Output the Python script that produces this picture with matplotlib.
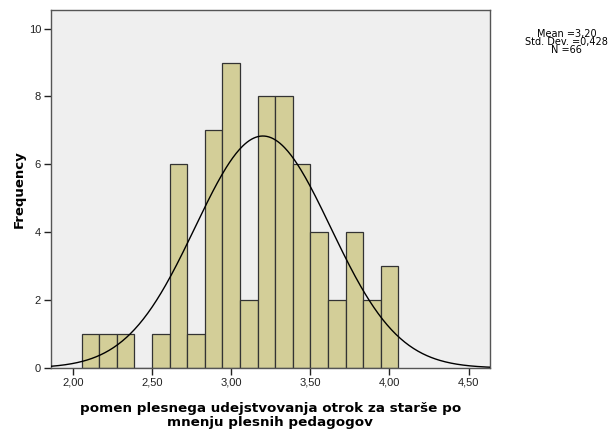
import numpy as np
import matplotlib.pyplot as plt

plt.rcParams['font.family'] = ['Liberation Sans', 'DejaVu Sans']

# histogram bins (SPSS style) and counts
bin_start = 2.0556
bin_width = 0.1111
counts = [1, 1, 1, 0, 1, 6, 1, 7, 9, 2, 8, 8, 6, 4, 2, 4, 2, 3]
mean = 3.20
std = 0.428
n = 66

xticks = [2.0, 2.5, 3.0, 3.5, 4.0, 4.5]
xticklabels = ["2,00", "2,50", "3,00", "3,50", "4,00", "4,50"]
yticks = [0, 2, 4, 6, 8, 10]

fig = plt.figure(figsize=(6.11, 4.34), dpi=100)
ax = fig.add_axes([0.083, 0.152, 0.719, 0.826])
ax.set_facecolor('#efefef')

lefts = bin_start + bin_width * np.arange(len(counts))
ax.bar(lefts, counts, width=bin_width, align='edge', color='#d3ce98',
       edgecolor='#333333', linewidth=0.9, zorder=2)

xs = np.linspace(1.86, 4.64, 400)
ys = n * bin_width / (std * np.sqrt(2 * np.pi)) * np.exp(-0.5 * ((xs - mean) / std) ** 2)
ax.plot(xs, ys, color='black', linewidth=1.0, zorder=3)

ax.set_xlim(1.86, 4.635)
ax.set_ylim(0, 10.56)
ax.set_xticks(xticks)
ax.set_xticklabels(xticklabels)
ax.set_yticks(yticks)
ax.tick_params(labelsize=8, length=5, width=1, colors='#222222', pad=2)
for s in ax.spines.values():
    s.set_color('#555555')
    s.set_linewidth(1)

ax.set_xlabel("pomen plesnega udejstvovanja otrok za starše po\nmnenju plesnih pedagogov",
              fontsize=9.7, fontweight='bold', family='DejaVu Sans',
              linespacing=1.1, labelpad=10)
ax.set_ylabel("Frequency", fontsize=9.5, fontweight='bold', family='DejaVu Sans', labelpad=2)

fig.text(0.927, 0.903, "Mean =3,20\nStd. Dev. =0,428\nN =66", ha='center', va='center',
         fontsize=7, family='DejaVu Sans', linespacing=0.7)

fig.savefig("out.png", dpi=100)
